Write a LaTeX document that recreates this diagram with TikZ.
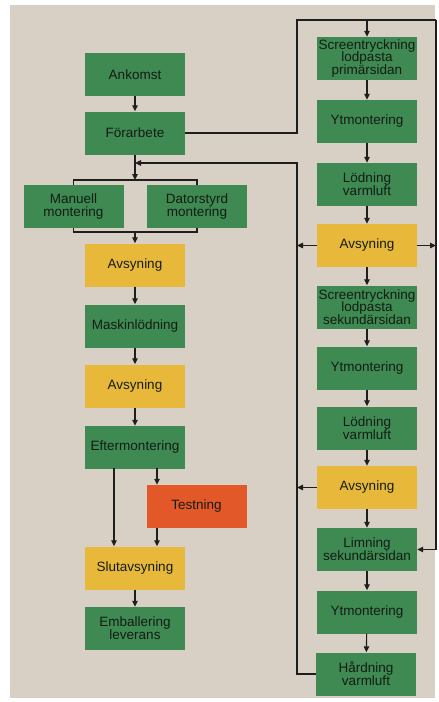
\documentclass[tikz,border=0pt]{standalone}
\usepackage{fontspec}
\setmainfont{Liberation Sans}
\usetikzlibrary{arrows.meta}
\definecolor{bgc}{RGB}{216,208,196}
\definecolor{grn}{RGB}{62,138,82}
\definecolor{ylw}{RGB}{232,184,58}
\definecolor{org}{RGB}{226,88,40}
\definecolor{txt}{RGB}{20,28,20}
\definecolor{ln}{RGB}{30,30,30}
\tikzset{
  box/.style={minimum width=100pt, minimum height=43pt, inner sep=0pt, align=center,
    text=txt, font=\fontsize{13.5}{12.8}\selectfont},
  gbox/.style={box, fill=grn},
  ybox/.style={box, fill=ylw},
  obox/.style={box, fill=org},
  conn/.style={draw=ln, line width=1.1pt},
  arr/.style={conn, -{Triangle[length=6pt,width=5.5pt]}}
}
\begin{document}
\begin{tikzpicture}[x=1pt,y=-1pt]
\useasboundingbox (0,0) rectangle (439,702);
\fill[white] (0,0) rectangle (439,702);
\fill[bgc] (10,5) rectangle (435,698);
% left column
\node[gbox] (ank) at (135,74.5) {Ankomst};
\node[gbox] (for) at (135,133) {Förarbete};
\node[gbox] (man) at (73.5,206.5) {Manuell\\montering};
\node[gbox] (dat) at (197,206.5) {Datorstyrd\\montering};
\node[ybox] (avs1) at (135,265) {Avsyning};
\node[gbox] (mask) at (135,326) {Maskinlödning};
\node[ybox] (avs2) at (135,386) {Avsyning};
\node[gbox] (eft) at (135,447.5) {Eftermontering};
\node[obox] (test) at (196.5,506.5) {Testning};
\node[ybox] (slut) at (135,568) {Slutavsyning};
\node[gbox] (emb) at (135,628.5) {Emballering\\leverans};
% right column
\node[gbox] (scr1) at (367,58.5) {Screentryckning\\lodpasta\\primärsidan};
\node[gbox] (yt1) at (367,121.5) {Ytmontering};
\node[gbox] (lod1) at (367,184.5) {Lödning\\varmluft};
\node[ybox] (avsR1) at (367,245.5) {Avsyning};
\node[gbox] (scr2) at (367,307) {Screentryckning\\lodpasta\\sekundärsidan};
\node[gbox] (yt2) at (367,368) {Ytmontering};
\node[gbox] (lod2) at (367,428) {Lödning\\varmluft};
\node[ybox] (avsR2) at (367,487.5) {Avsyning};
\node[gbox] (lim) at (367,549.5) {Limning\\sekundärsidan};
\node[gbox] (yt3) at (367,612) {Ytmontering};
\node[gbox] (hard) at (366,674) {Hårdning\\varmluft};
% coordinates
\coordinate (barT) at (135,180);
\coordinate (barB) at (135,232);
\coordinate (topL) at (297,20);
\coordinate (topR) at (436,20);
\coordinate (fbR) at (297,163);
\coordinate (fb) at (135,163);
\coordinate (e1) at (114,468);
\coordinate (e2) at (157,468);
\coordinate (t2) at (157,528);
% left connectors
\draw[arr] (ank) -- (for);
\draw[arr] (for) -- (barT);
\draw[conn] (man.north) |- (barT) -| (dat.north);
\draw[conn] (man.south) |- (barB) -| (dat.south);
\draw[arr] (barB) -- (avs1);
\draw[arr] (avs1) -- (mask);
\draw[arr] (mask) -- (avs2);
\draw[arr] (avs2) -- (eft);
\draw[arr] (e1) -- (e1 |- slut.north);
\draw[arr] (e2) -- (e2 |- test.north);
\draw[arr] (t2) -- (t2 |- slut.north);
\draw[arr] (slut) -- (emb);
% right connectors
\draw[conn] (for.east) -| (topL) -- (topR);
\draw[arr] (topR) |- (lim.east);
\draw[arr] (scr1.north |- topL) -- (scr1.north);
\draw[arr] (scr1) -- (yt1);
\draw[arr] (yt1) -- (lod1);
\draw[arr] (lod1) -- (avsR1);
\draw[arr] (avsR1) -- (scr2);
\draw[arr] (scr2) -- (yt2);
\draw[arr] (yt2) -- (lod2);
\draw[arr] (lod2) -- (avsR2);
\draw[arr] (avsR2) -- (lim);
\draw[arr] (lim) -- (yt3);
\draw[arr] (yt3) -- (hard);
\draw[arr] (avsR1.west) -- (avsR1.west -| fbR);
\draw[arr] (avsR1.east) -- (avsR1.east -| topR);
\draw[arr] (avsR2.west) -- (avsR2.west -| fbR);
\draw[arr] (hard.west) -| (fbR) -- (fb);
\end{tikzpicture}
\end{document}
